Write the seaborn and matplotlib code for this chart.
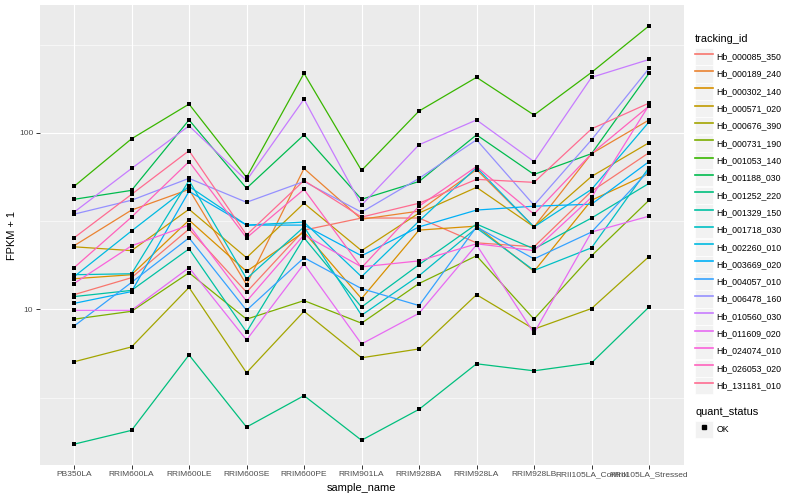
import numpy as np
import pandas as pd
import matplotlib
matplotlib.use("Agg")
import matplotlib.pyplot as plt
import seaborn as sns
from matplotlib.lines import Line2D
from matplotlib.patches import Rectangle
from matplotlib.legend_handler import HandlerLine2D

plt.rcParams['font.family'] = ['Liberation Sans', 'DejaVu Sans']

samples = ["PB350LA", "RRIM600LA", "RRIM600LE", "RRIM600SE", "RRIM600PE",
           "RRIM901LA", "RRIM928BA", "RRIM928LA", "RRIM928LB",
           "RRII105LA_Control", "RRII105LA_Stressed"]

tracking_ids = ["Hb_000085_350", "Hb_000189_240", "Hb_000302_140", "Hb_000571_020",
                "Hb_000676_390", "Hb_000731_190", "Hb_001053_140", "Hb_001188_030",
                "Hb_001252_220", "Hb_001329_150", "Hb_001718_030", "Hb_002260_010",
                "Hb_003669_020", "Hb_004057_010", "Hb_006478_160", "Hb_010560_030",
                "Hb_011609_020", "Hb_024074_010", "Hb_026053_020", "Hb_131181_010"]

colors = ["#F8766D", "#EA8331", "#D89000", "#C09B00", "#A3A500", "#7CAE00",
          "#39B600", "#00BB4E", "#00BF7D", "#00C1A3", "#00BFC4", "#00BAE0",
          "#00B0F6", "#35A2FF", "#9590FF", "#C77CFF", "#E76BF3", "#FA62DB",
          "#FF62BC", "#FF6C91"]

hb_000085_350 = [12.1, 15.1, 28.5, 12.5, 28.1, 32.9, 32.9, 23.8, 22.6, 46.6, 77.2]
hb_000189_240 = [22.9, 36.5, 47.8, 13.8, 62.8, 32.4, 36.0, 61.9, 29.3, 76.2, 118.3]
hb_000302_140 = [14.9, 15.7, 32.0, 16.4, 27.4, 11.5, 28.1, 29.6, 16.4, 41.5, 58.8]
hb_000571_020 = [22.6, 21.5, 36.9, 19.6, 39.9, 21.5, 35.1, 49.1, 29.3, 56.6, 87.9]
hb_000676_390 = [5.04, 6.12, 13.3, 4.37, 9.74, 5.31, 5.96, 12.1, 7.72, 10.1, 19.9]
hb_000731_190 = [8.79, 9.74, 16.1, 8.79, 11.2, 8.34, 14.0, 20.1, 8.79, 20.1, 41.5]
hb_001053_140 = [49.7, 92.5, 145.5, 55.9, 217.3, 61.2, 132.9, 206.3, 126.2, 220.1, 404.0]
hb_001188_030 = [42.0, 47.2, 118.3, 48.5, 97.4, 42.0, 53.0, 97.4, 58.1, 76.2, 217.3]
hb_001252_220 = [1.72, 2.06, 5.51, 2.15, 3.24, 1.81, 2.71, 4.91, 4.48, 4.97, 10.3]
hb_001329_150 = [11.8, 12.8, 22.0, 7.43, 25.4, 10.3, 17.9, 30.4, 22.0, 32.9, 51.7]
hb_001718_030 = [15.7, 15.9, 53.7, 14.9, 29.3, 9.25, 15.5, 28.9, 16.6, 22.3, 63.6]
hb_002260_010 = [15.3, 27.8, 49.7, 30.0, 31.2, 15.3, 31.6, 63.6, 29.3, 47.8, 115.3]
hb_003669_020 = [10.8, 12.6, 46.6, 30.0, 30.0, 20.1, 29.3, 36.5, 38.4, 39.4, 68.7]
hb_004057_010 = [8.03, 14.2, 25.4, 9.87, 19.6, 13.1, 10.5, 29.3, 19.3, 27.4, 61.2]
hb_006478_160 = [34.6, 41.5, 55.2, 40.4, 53.0, 35.5, 55.2, 91.3, 38.9, 91.3, 231.9]
hb_010560_030 = [35.5, 62.8, 109.5, 53.7, 155.2, 38.9, 85.6, 118.3, 68.7, 206.3, 260.4]
hb_011609_020 = [9.87, 9.87, 17.2, 6.70, 18.1, 6.36, 9.49, 23.2, 7.33, 27.4, 33.7]
hb_024074_010 = [14.0, 22.9, 30.0, 11.1, 26.4, 17.4, 18.8, 23.5, 21.5, 43.1, 143.6]
hb_026053_020 = [17.2, 33.3, 68.7, 25.4, 47.8, 17.2, 38.4, 64.4, 34.6, 76.2, 141.8]
hb_131181_010 = [25.4, 44.8, 79.2, 26.4, 53.7, 33.3, 39.9, 54.5, 52.4, 105.3, 147.4]

series_values = [hb_000085_350, hb_000189_240, hb_000302_140, hb_000571_020,
                 hb_000676_390, hb_000731_190, hb_001053_140, hb_001188_030,
                 hb_001252_220, hb_001329_150, hb_001718_030, hb_002260_010,
                 hb_003669_020, hb_004057_010, hb_006478_160, hb_010560_030,
                 hb_011609_020, hb_024074_010, hb_026053_020, hb_131181_010]

rows = []
for tid, vals in zip(tracking_ids, series_values):
    for s, v in zip(samples, vals):
        rows.append({"tracking_id": tid, "sample_name": s, "fpkm": v,
                     "quant_status": "OK"})
df = pd.DataFrame(rows)
df["sample_name"] = pd.Categorical(df["sample_name"], categories=samples, ordered=True)
df["x"] = df["sample_name"].cat.codes

fig = plt.figure(figsize=(8, 5), dpi=100)
ax = fig.add_axes([0.0494, 0.07, 0.805, 0.92])
ax.set_facecolor("#EBEBEB")
for sp in ax.spines.values():
    sp.set_visible(False)

ax.set_yscale("log")
sns.lineplot(data=df, x="x", y="fpkm", hue="tracking_id", hue_order=tracking_ids,
             palette=colors, linewidth=0.9, legend=False, ax=ax, sort=False,
             estimator=None, zorder=3)
sns.scatterplot(data=df, x="x", y="fpkm", color="black", marker="s", s=10,
                linewidth=0, legend=False, ax=ax, zorder=4)

ax.set_xlim(-0.6, len(samples) - 0.4)
ax.set_ylim(10 ** 0.1175, 10 ** 2.7245)
ax.set_xticks(range(len(samples)))
ax.set_xticklabels(samples)
ax.set_yticks([10, 100])
ax.set_yticklabels(["10", "100"])
ax.yaxis.set_minor_locator(matplotlib.ticker.FixedLocator([10 ** 0.5, 10 ** 1.5, 10 ** 2.5]))
ax.yaxis.set_minor_formatter(matplotlib.ticker.NullFormatter())
ax.tick_params(axis="both", which="major", length=3, width=0.7, color="#333333",
               labelsize=6.0, labelcolor="#4D4D4D", pad=1.5)
ax.tick_params(axis="y", which="minor", length=0)
ax.grid(True, which="major", color="white", linewidth=0.8, zorder=0)
ax.grid(True, which="minor", axis="y", color="white", linewidth=0.4, zorder=0)
ax.set_axisbelow(True)
ax.set_xlabel("sample_name", fontsize=7.9, labelpad=3.5)
ax.set_ylabel("FPKM + 1", fontsize=7.9, labelpad=1.5)


class BoxedHandler(HandlerLine2D):
    def create_artists(self, legend, orig_handle, xdescent, ydescent, width,
                       height, fontsize, trans):
        arts = super().create_artists(legend, orig_handle, xdescent, ydescent,
                                      width, height, fontsize, trans)
        bg = Rectangle((-xdescent, -ydescent), width, height, facecolor="#F2F2F2",
                       edgecolor="white", linewidth=0.5, transform=trans)
        return [bg] + list(arts)


legend_kw = dict(loc="upper left", frameon=False, title_fontsize=7.9, fontsize=6.3,
                 handlelength=2.0, handleheight=2.62, labelspacing=0.03,
                 handletextpad=0.45, borderpad=0, borderaxespad=0, alignment="left",
                 handler_map={Line2D: BoxedHandler()})

handles = [Line2D([0], [0], color=c, linewidth=1.2) for c in colors]
leg1 = fig.legend(handles, tracking_ids, bbox_to_anchor=(0.869, 0.932),
                  title="tracking_id", **legend_kw)
leg1._legend_box.sep = 3

ok_handle = [Line2D([0], [0], color="black", marker="s", markersize=2.6, linestyle="None")]
leg2 = fig.legend(ok_handle, ["OK"], bbox_to_anchor=(0.869, 0.186),
                  title="quant_status", **legend_kw)
leg2._legend_box.sep = 3

fig.savefig("out.png", dpi=100)
